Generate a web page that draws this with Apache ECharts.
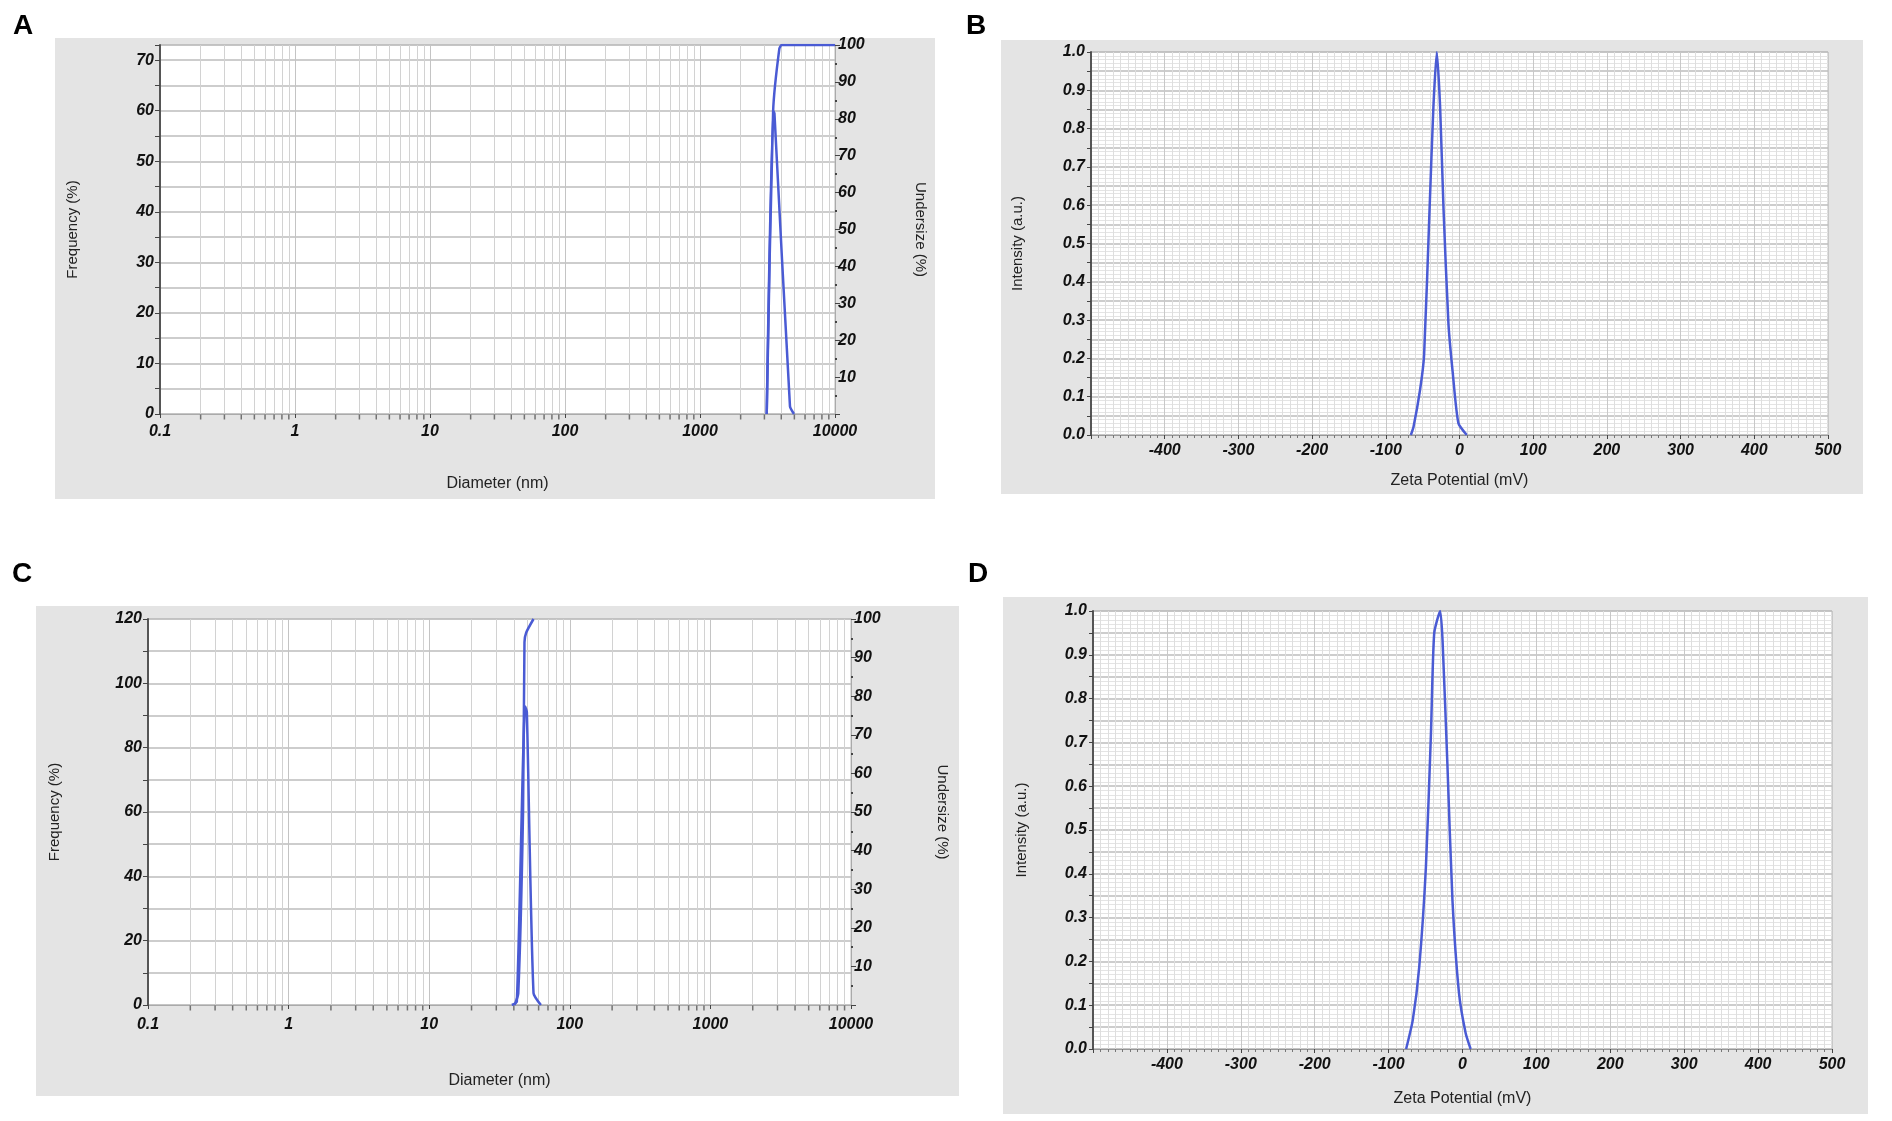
<!DOCTYPE html>
<html>
<head>
<meta charset="utf-8">
<title>DLS size and zeta potential</title>
<script src="https://cdn.jsdelivr.net/npm/echarts@6/dist/echarts.min.js"></script>
<style>
  html, body { margin: 0; padding: 0; background: #fff; }
  #container { width: 1892px; height: 1121px; }
</style>
</head>
<body>
<div id="container"></div>
<script>
// panel A - size distribution (nm)
var sizeA = [3120, 3480, 3560, 4640, 4970];
var freqA = [0, 60, 59.5, 1.5, 0];
var cumSizeA = [3120, 3480, 3870, 4030, 10000];
var undersizeA = [0, 82, 99, 100, 100];

// panel C - size distribution (nm)
var sizeC = [38.7, 42.0, 48.2, 49.5, 55.2, 62.3];
var freqC = [0, 1, 92.8, 91, 3.7, 0];
var cumSizeC = [40.5, 43, 46.5, 47.6, 49, 55.2];
var undersizeC = [0, 3, 50, 94, 96.5, 100];

// panel B / D - zeta potential (mV)
var zetaB = [-66, -62.5, -53.5, -48, -40.5, -35.4, -30.8, -26.3, -21.8, -15, -9.1, -1.5, 9.9];
var intensityB = [0, 0.02, 0.118, 0.21, 0.596, 0.857, 1.0, 0.856, 0.596, 0.29, 0.161, 0.031, 0];
var zetaD = [-76.3, -67.3, -58.5, -49.5, -42.7, -38.3, -30.2, -27, -20.3, -13.6, -4.7, 4.3, 11];
var intensityD = [0, 0.066, 0.188, 0.416, 0.72, 0.949, 1.0, 0.933, 0.644, 0.34, 0.127, 0.036, 0];

// log axis minor grid positions
var logDecades = [0.1, 1, 10, 100, 1000];
var logSteps = [2, 3, 4, 5, 6, 7, 8, 9];

var FONT = 'Liberation Sans, Arial, sans-serif';
var LINE_COLOR = '#4a5bd4';

function pairs(xs, ys) {
	var out = [];
	for (var i = 0; i < xs.length; i++) {
		out.push([xs[i], ys[i]]);
	}
	return out;
}

function $extend(a, b) {
	var o = {};
	for (var k in a) o[k] = a[k];
	for (var j in b) o[j] = b[j];
	return o;
}

var minorX = [];
logDecades.forEach(function (d) {
	logSteps.forEach(function (s) {
		minorX.push(+(d * s).toPrecision(6));
	});
});

var tickLabel = {
	fontFamily: FONT,
	fontSize: 16,
	fontWeight: 'bold',
	fontStyle: 'italic',
	color: '#111'
};
var nameStyle = {
	fontFamily: FONT,
	fontSize: 15,
	color: '#222'
};

function logXAxis(gridIndex, margin, nameGap) {
	return {
		type: 'log',
		logBase: 10,
		gridIndex: gridIndex,
		min: 0.1,
		max: 10000,
		name: 'Diameter (nm)',
		nameLocation: 'middle',
		nameGap: nameGap,
		nameTextStyle: $extend(nameStyle, { fontSize: 16 }),
		axisLine: { lineStyle: { color: '#aaa', width: 1 } },
		axisTick: { show: true, length: 4, lineStyle: { color: '#444' } },
		axisLabel: $extend(tickLabel, {
			margin: margin,
			formatter: function (v) { return String(+v.toPrecision(6)); }
		}),
		splitLine: { show: true, lineStyle: { color: '#c4c4c4', width: 1 } }
	};
}

function zetaXAxis(gridIndex, margin, nameGap) {
	return {
		type: 'value',
		gridIndex: gridIndex,
		min: -500,
		max: 500,
		interval: 100,
		name: 'Zeta Potential (mV)',
		nameLocation: 'middle',
		nameGap: nameGap,
		nameTextStyle: $extend(nameStyle, { fontSize: 16 }),
		axisLine: { onZero: false, lineStyle: { color: '#999', width: 1 } },
		axisTick: { show: true, length: 4, lineStyle: { color: '#444' } },
		minorTick: { show: true, splitNumber: 10, length: 3, lineStyle: { color: '#777' } },
		axisLabel: $extend(tickLabel, {
			margin: margin,
			formatter: function (v) { return v === -500 ? '' : String(v); }
		}),
		splitLine: { show: true, lineStyle: { color: '#c8c8c8', width: 1 } },
		minorSplitLine: { show: true, lineStyle: { color: '#dedede', width: 1 } }
	};
}

function intensityYAxis(gridIndex, nameGap) {
	return {
		type: 'value',
		gridIndex: gridIndex,
		min: 0,
		max: 1,
		interval: 0.05,
		name: 'Intensity (a.u.)',
		nameLocation: 'middle',
		nameRotate: 90,
		nameGap: nameGap,
		nameTextStyle: nameStyle,
		axisLine: { show: true, onZero: false, lineStyle: { color: '#555', width: 2 } },
		axisTick: { show: true, length: 4, lineStyle: { color: '#444' } },
		axisLabel: $extend(tickLabel, {
			margin: 6,
			formatter: function (v) {
				return Math.round(v * 100) % 10 === 0 ? v.toFixed(1) : '';
			}
		}),
		splitLine: { show: true, lineStyle: { color: '#bdbdbd', width: 1.5 } },
		minorTick: { show: false, splitNumber: 5 },
		minorSplitLine: { show: true, lineStyle: { color: '#e4e4e4', width: 1 } }
	};
}

function freqYAxis(gridIndex, max, interval, labelEvery, nameGap) {
	return {
		type: 'value',
		gridIndex: gridIndex,
		min: 0,
		max: max,
		interval: interval,
		name: 'Frequency (%)',
		nameLocation: 'middle',
		nameRotate: 90,
		nameGap: nameGap,
		nameTextStyle: nameStyle,
		axisLine: { show: true, onZero: false, lineStyle: { color: '#555', width: 2 } },
		axisTick: { show: true, length: 5, lineStyle: { color: '#444' } },
		axisLabel: $extend(tickLabel, {
			margin: 6,
			formatter: function (v) { return v % labelEvery === 0 ? String(v) : ''; }
		}),
		splitLine: { show: true, lineStyle: { color: '#bdbdbd', width: 1.5 } }
	};
}

function undersizeYAxis(gridIndex, nameGap) {
	return {
		type: 'value',
		gridIndex: gridIndex,
		position: 'right',
		min: 0,
		max: 100,
		interval: 10,
		name: 'Undersize (%)',
		nameLocation: 'middle',
		nameRotate: -90,
		nameGap: nameGap,
		nameTextStyle: nameStyle,
		axisLine: { show: true, onZero: false, lineStyle: { color: '#aaa', width: 1 } },
		axisTick: { show: true, length: 5, lineStyle: { color: '#444' } },
		minorTick: { show: true, splitNumber: 2, length: 2, lineStyle: { color: '#444', width: 2 } },
		axisLabel: $extend(tickLabel, {
			margin: 3,
			formatter: function (v) { return v === 0 ? '' : String(v); }
		}),
		splitLine: { show: false }
	};
}

function curve(xi, yi, data) {
	return {
		type: 'line',
		xAxisIndex: xi,
		yAxisIndex: yi,
		data: data,
		showSymbol: false,
		symbol: 'none',
		smooth: 0.2,
		z: 5,
		lineStyle: { color: LINE_COLOR, width: 2.5 },
		silent: true,
		animation: false
	};
}

// helper: minor log gridlines + small ticks along the bottom axis
function logMinor(xi, yi) {
	return {
		type: 'scatter',
		xAxisIndex: xi,
		yAxisIndex: yi,
		data: minorX.map(function (v) { return [v, 0]; }),
		symbol: 'rect',
		symbolSize: [1.5, 5],
		symbolOffset: [0, 3],
		itemStyle: { color: '#555' },
		clip: false,
		silent: true,
		animation: false,
		z: 1,
		markLine: {
			silent: true,
			symbol: ['none', 'none'],
			label: { show: false },
			animation: false,
			lineStyle: { color: '#d2d2d2', type: 'solid', width: 1 },
			data: minorX.map(function (v) { return { xAxis: v }; })
		}
	};
}

function panelBox(x, y, w, h) {
	return {
		type: 'rect',
		z: -10,
		silent: true,
		shape: { x: x, y: y, width: w, height: h },
		style: { fill: '#e4e4e4' }
	};
}

function panelLetter(txt, x, y) {
	return {
		type: 'text',
		x: x,
		y: y,
		silent: true,
		style: { text: txt, fill: '#000', font: 'bold 28px ' + FONT }
	};
}

var gridStyle = { show: true, backgroundColor: '#fff', borderColor: '#bbb', borderWidth: 1 };

var option = {
	animation: false,
	graphic: [
		panelBox(55, 38, 880, 461),
		panelBox(1001, 40, 862, 454),
		panelBox(36, 606, 923, 490),
		panelBox(1003, 597, 865, 517),
		panelLetter('A', 13, 12),
		panelLetter('B', 966, 12),
		panelLetter('C', 12, 560),
		panelLetter('D', 968, 560)
	],
	grid: [
		$extend(gridStyle, { left: 160, top: 45, width: 675, height: 369 }),
		$extend(gridStyle, { left: 1091, top: 52, width: 737, height: 383 }),
		$extend(gridStyle, { left: 148, top: 619, width: 703, height: 386 }),
		$extend(gridStyle, { left: 1093, top: 611, width: 739, height: 438 })
	],
	xAxis: [
		logXAxis(0, 10, 62),
		zetaXAxis(1, 8, 38),
		logXAxis(2, 12, 68),
		zetaXAxis(3, 8, 42)
	],
	yAxis: [
		freqYAxis(0, 73, 5, 10, 80),        // 0
		undersizeYAxis(0, 78),              // 1
		intensityYAxis(1, 66),              // 2
		freqYAxis(2, 120, 10, 20, 86),      // 3
		undersizeYAxis(2, 84),              // 4
		intensityYAxis(3, 64)               // 5
	],
	series: [
		logMinor(0, 0),
		curve(0, 0, pairs(sizeA, freqA)),
		curve(0, 1, pairs(cumSizeA, undersizeA)),
		curve(1, 2, pairs(zetaB, intensityB)),
		logMinor(2, 3),
		curve(2, 3, pairs(sizeC, freqC)),
		curve(2, 4, pairs(cumSizeC, undersizeC)),
		curve(3, 5, pairs(zetaD, intensityD))
	]
};

var myChart = echarts.init(document.getElementById('container'));
myChart.setOption(option);
</script>
</body>
</html>
